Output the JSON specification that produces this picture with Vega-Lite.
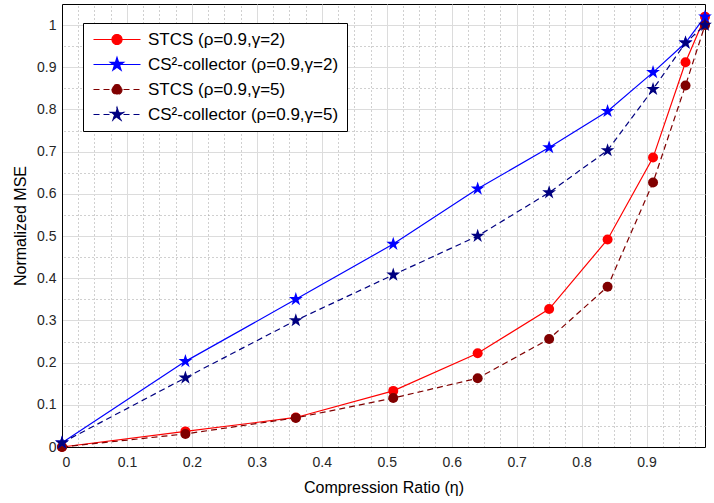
{
  "$schema": "https://vega.github.io/schema/vega-lite/v6.json",
  "width": 714,
  "height": 503,
  "autosize": {"type": "fit", "contains": "padding"},
  "padding": {"left": 12, "top": 4, "right": 2, "bottom": 8},
  "background": "white",
  "config": {
    "font": "Liberation Sans",
    "view": {"stroke": "black", "strokeWidth": 1},
    "axis": {"labelColor": "#262626", "titleColor": "black", "titleFontWeight": "normal", "labelFontSize": 14, "titleFontSize": 16}
  },
  "data": {"values": [
    {"series": "STCS (ρ=0.9,γ=2)", "eta": 0, "mse": 0},
    {"series": "STCS (ρ=0.9,γ=2)", "eta": 0.19, "mse": 0.037},
    {"series": "STCS (ρ=0.9,γ=2)", "eta": 0.36, "mse": 0.07},
    {"series": "STCS (ρ=0.9,γ=2)", "eta": 0.51, "mse": 0.133},
    {"series": "STCS (ρ=0.9,γ=2)", "eta": 0.64, "mse": 0.222},
    {"series": "STCS (ρ=0.9,γ=2)", "eta": 0.75, "mse": 0.327},
    {"series": "STCS (ρ=0.9,γ=2)", "eta": 0.84, "mse": 0.492},
    {"series": "STCS (ρ=0.9,γ=2)", "eta": 0.91, "mse": 0.686},
    {"series": "STCS (ρ=0.9,γ=2)", "eta": 0.96, "mse": 0.912},
    {"series": "STCS (ρ=0.9,γ=2)", "eta": 0.99, "mse": 1.02},
    {"series": "CS²-collector (ρ=0.9,γ=2)", "eta": 0, "mse": 0.01},
    {"series": "CS²-collector (ρ=0.9,γ=2)", "eta": 0.19, "mse": 0.203},
    {"series": "CS²-collector (ρ=0.9,γ=2)", "eta": 0.36, "mse": 0.35},
    {"series": "CS²-collector (ρ=0.9,γ=2)", "eta": 0.51, "mse": 0.481},
    {"series": "CS²-collector (ρ=0.9,γ=2)", "eta": 0.64, "mse": 0.612},
    {"series": "CS²-collector (ρ=0.9,γ=2)", "eta": 0.75, "mse": 0.71},
    {"series": "CS²-collector (ρ=0.9,γ=2)", "eta": 0.84, "mse": 0.796},
    {"series": "CS²-collector (ρ=0.9,γ=2)", "eta": 0.91, "mse": 0.888},
    {"series": "CS²-collector (ρ=0.9,γ=2)", "eta": 0.96, "mse": 0.958},
    {"series": "CS²-collector (ρ=0.9,γ=2)", "eta": 0.99, "mse": 1.02},
    {"series": "STCS (ρ=0.9,γ=5)", "eta": 0, "mse": 0},
    {"series": "STCS (ρ=0.9,γ=5)", "eta": 0.19, "mse": 0.031},
    {"series": "STCS (ρ=0.9,γ=5)", "eta": 0.36, "mse": 0.069},
    {"series": "STCS (ρ=0.9,γ=5)", "eta": 0.51, "mse": 0.116},
    {"series": "STCS (ρ=0.9,γ=5)", "eta": 0.64, "mse": 0.163},
    {"series": "STCS (ρ=0.9,γ=5)", "eta": 0.75, "mse": 0.256},
    {"series": "STCS (ρ=0.9,γ=5)", "eta": 0.84, "mse": 0.38},
    {"series": "STCS (ρ=0.9,γ=5)", "eta": 0.91, "mse": 0.627},
    {"series": "STCS (ρ=0.9,γ=5)", "eta": 0.96, "mse": 0.857},
    {"series": "STCS (ρ=0.9,γ=5)", "eta": 0.99, "mse": 1.0},
    {"series": "CS²-collector (ρ=0.9,γ=5)", "eta": 0, "mse": 0.01},
    {"series": "CS²-collector (ρ=0.9,γ=5)", "eta": 0.19, "mse": 0.164},
    {"series": "CS²-collector (ρ=0.9,γ=5)", "eta": 0.36, "mse": 0.3},
    {"series": "CS²-collector (ρ=0.9,γ=5)", "eta": 0.51, "mse": 0.408},
    {"series": "CS²-collector (ρ=0.9,γ=5)", "eta": 0.64, "mse": 0.5},
    {"series": "CS²-collector (ρ=0.9,γ=5)", "eta": 0.75, "mse": 0.603},
    {"series": "CS²-collector (ρ=0.9,γ=5)", "eta": 0.84, "mse": 0.703},
    {"series": "CS²-collector (ρ=0.9,γ=5)", "eta": 0.91, "mse": 0.848},
    {"series": "CS²-collector (ρ=0.9,γ=5)", "eta": 0.96, "mse": 0.958},
    {"series": "CS²-collector (ρ=0.9,γ=5)", "eta": 0.99, "mse": 1.0}
  ]},
  "layer": [
    {
      "transform": [{"filter": "indexof(datum.series, 'γ=2') >= 0"}],
      "mark": {"type": "line", "strokeWidth": 1.2},
      "encoding": {
        "x": {"field": "eta", "type": "quantitative", "scale": {"domain": [0, 0.99], "nice": false, "zero": false},
          "axis": {"orient": "top", "labels": false, "ticks": false, "domain": false, "title": null, "grid": true, "gridDash": [1, 3], "gridColor": "#a0a0a0", "gridWidth": 1, "gridOpacity": 1,
            "values": [0.025,0.05,0.075,0.125,0.15,0.175,0.225,0.25,0.275,0.325,0.35,0.375,0.425,0.45,0.475,0.525,0.55,0.575,0.625,0.65,0.675,0.725,0.75,0.775,0.825,0.85,0.875,0.925,0.95,0.975]}},
        "y": {"field": "mse", "type": "quantitative", "scale": {"domain": [0, 1.05], "nice": false, "zero": false},
          "axis": {"orient": "right", "labels": false, "ticks": false, "domain": false, "title": null, "grid": true, "gridDash": [1, 3], "gridColor": "#a0a0a0", "gridWidth": 1, "gridOpacity": 1,
            "values": [0.05,0.15,0.25,0.35,0.45,0.55,0.65,0.75,0.85,0.95]}},
        "color": {"field": "series", "type": "nominal", "sort": null,
          "scale": {"domain": ["STCS (ρ=0.9,γ=2)", "CS²-collector (ρ=0.9,γ=2)", "STCS (ρ=0.9,γ=5)", "CS²-collector (ρ=0.9,γ=5)"], "range": ["#ff0000", "#0000ff", "#800000", "#000080"]},
          "legend": {
            "title": null, "orient": "none", "legendX": 21, "legendY": 19,
            "fillColor": "white", "strokeColor": "black", "padding": 8,
            "labelFontSize": 17, "labelColor": "black", "labelLimit": 400, "labelOffset": 40,
            "symbolSize": 100, "symbolStrokeWidth": 1.2, "rowPadding": 7,
            "encode": {"symbols": {"update": {
              "shape": {"signal": "indexof(datum.value, 'STCS') == 0 ? 'M-1.2,0H8.2M4.5,0A1,1,0,1,1,2.5,0A1,1,0,1,1,4.5,0Z' : 'M-1.2,0H8.2M3.5,-1.4L3.814,-0.433L4.831,-0.433L4.009,0.165L4.323,1.133L3.5,0.535L2.677,1.133L2.991,0.165L2.169,-0.433L3.186,-0.433Z'"},
              "strokeDash": {"signal": "indexof(datum.value, 'γ=5') >= 0 ? [6, 4] : [1, 0]"},
              "stroke": {"scale": "color", "field": "value"},
              "strokeWidth": {"value": 1.2},
              "fill": {"scale": "color", "field": "value"},
              "fillOpacity": {"value": 1},
              "opacity": {"value": 1}
            }}}
          }}
      }
    },
    {
      "transform": [{"filter": "indexof(datum.series, 'γ=5') >= 0"}],
      "mark": {"type": "line", "strokeWidth": 1.2, "strokeDash": [6, 4]},
      "encoding": {
        "x": {"field": "eta", "type": "quantitative",
          "axis": {"orient": "bottom", "values": [0,0.1,0.2,0.3,0.4,0.5,0.6,0.7,0.8,0.9], "format": ".1~f", "grid": true, "gridColor": "#dcdcdc", "domainColor": "black", "ticks": false, "labelPadding": 8, "title": "Compression Ratio (η)", "titlePadding": 10}},
        "y": {"field": "mse", "type": "quantitative",
          "axis": {"orient": "left", "values": [0,0.1,0.2,0.3,0.4,0.5,0.6,0.7,0.8,0.9,1], "format": ".1~f", "grid": true, "gridColor": "#dcdcdc", "domainColor": "black", "ticks": false, "labelPadding": 6, "title": "Normalized MSE", "titlePadding": 8}},
        "color": {"field": "series", "type": "nominal", "sort": null}
      }
    },
    {
      "transform": [{"filter": "indexof(datum.series, 'STCS') == 0"}],
      "mark": {"type": "point", "filled": true, "opacity": 1, "shape": "circle", "size": 100},
      "encoding": {
        "x": {"field": "eta", "type": "quantitative", "axis": null},
        "y": {"field": "mse", "type": "quantitative", "axis": null},
        "color": {"field": "series", "type": "nominal", "sort": null}
      }
    },
    {
      "transform": [{"filter": "indexof(datum.series, 'CS²') == 0"}],
      "mark": {"type": "point", "filled": true, "opacity": 1, "size": 100, "shape": "M0,-1.45L0.3255,-0.448L1.379,-0.448L0.526,0.171L0.853,1.173L0,0.554L-0.853,1.173L-0.526,0.171L-1.379,-0.448L-0.3255,-0.448Z"},
      "encoding": {
        "x": {"field": "eta", "type": "quantitative", "axis": null},
        "y": {"field": "mse", "type": "quantitative", "axis": null},
        "color": {"field": "series", "type": "nominal", "sort": null}
      }
    }
  ],
  "resolve": {"axis": {"x": "independent", "y": "independent"}}
}
